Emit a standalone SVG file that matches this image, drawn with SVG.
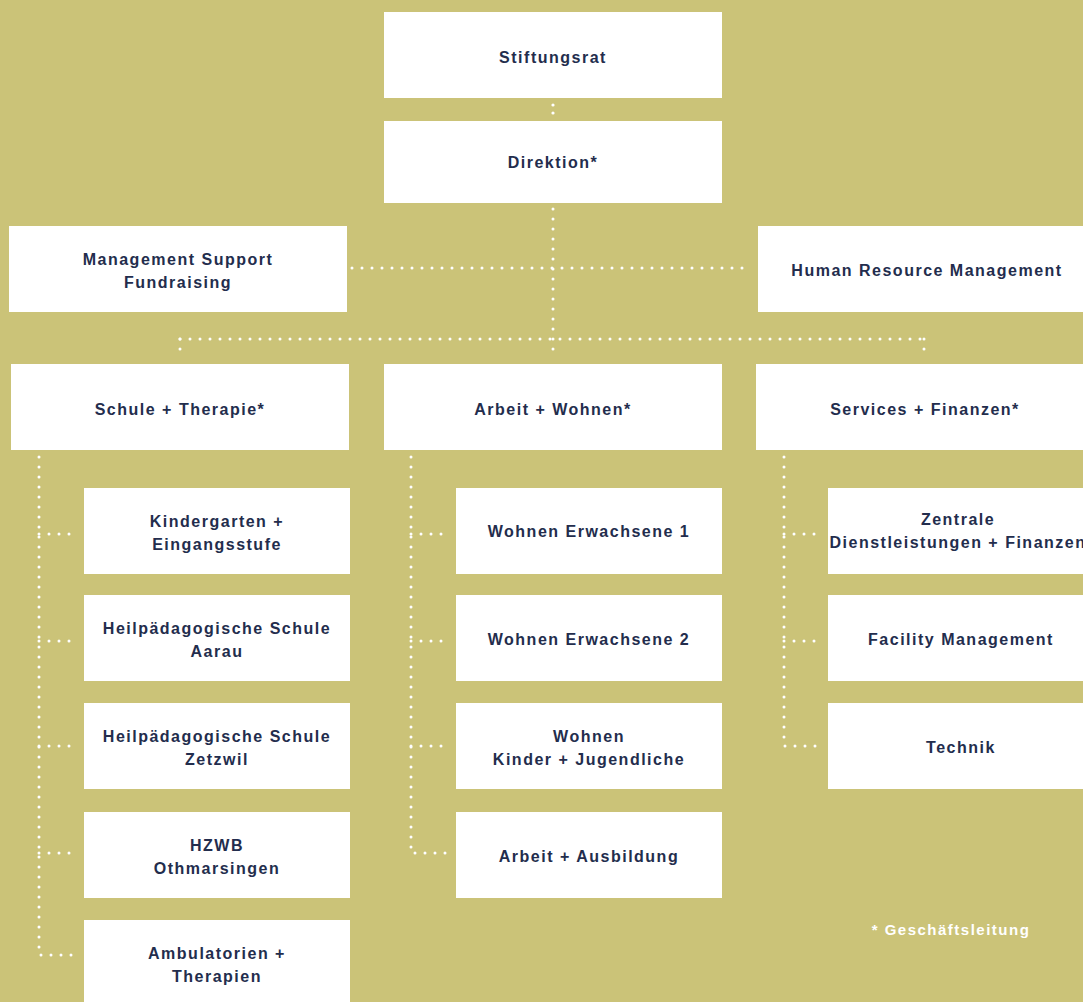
<svg xmlns="http://www.w3.org/2000/svg" width="1083" height="1002" viewBox="0 0 1083 1002">
<style>
.box{fill:#ffffff}
.t{font-family:"Liberation Sans",Arial,sans-serif;font-weight:bold;font-size:16px;letter-spacing:1.5px;fill:#232d4d;text-anchor:middle}
.note{font-family:"Liberation Sans",Arial,sans-serif;font-weight:bold;font-size:15px;letter-spacing:1.5px;fill:#ffffff;text-anchor:middle}
.c{stroke:#ffffff;stroke-width:3;stroke-linecap:round;stroke-dasharray:0 10;fill:none}
.d{fill:#ffffff}
</style>
<rect width="1083" height="1002" fill="#cbc378"/>
<g id="connectors">
<circle class="d" cx="553" cy="105" r="1.6"/>
<circle class="d" cx="553" cy="113" r="1.6"/>
<line class="c" x1="553" y1="209" x2="553" y2="359"/>
<line class="c" x1="352" y1="268" x2="752" y2="268"/>
<line class="c" x1="180" y1="339" x2="924" y2="339"/>
<line class="c" x1="180" y1="339" x2="180" y2="359"/>
<line class="c" x1="924" y1="339" x2="924" y2="359"/>
<path class="c" d="M39 457 V955 H79"/>
<line class="c" x1="39" y1="534" x2="79" y2="534"/>
<line class="c" x1="39" y1="641" x2="79" y2="641"/>
<line class="c" x1="39" y1="746" x2="79" y2="746"/>
<line class="c" x1="39" y1="853" x2="79" y2="853"/>
<path class="c" d="M411 457 V853 H451"/>
<line class="c" x1="411" y1="534" x2="451" y2="534"/>
<line class="c" x1="411" y1="641" x2="451" y2="641"/>
<line class="c" x1="411" y1="746" x2="451" y2="746"/>
<path class="c" d="M784 457 V746 H824"/>
<line class="c" x1="784" y1="534" x2="824" y2="534"/>
<line class="c" x1="784" y1="641" x2="824" y2="641"/>
</g>
<g id="stiftungsrat"><rect class="box" x="384" y="12" width="338" height="86"/><text class="t" x="553" y="63">Stiftungsrat</text></g>
<g id="direktion"><rect class="box" x="384" y="121" width="338" height="82"/><text class="t" x="553" y="168">Direktion*</text></g>
<g id="management-support"><rect class="box" x="9" y="226" width="338" height="86"/><text class="t" x="178" y="265">Management Support</text><text class="t" x="178" y="288">Fundraising</text></g>
<g id="hrm"><rect class="box" x="758" y="226" width="325" height="86"/><text class="t" x="927" y="276">Human Resource Management</text></g>
<g id="schule"><rect class="box" x="11" y="364" width="338" height="86"/><text class="t" x="180" y="415">Schule + Therapie*</text></g>
<g id="arbeit"><rect class="box" x="384" y="364" width="338" height="86"/><text class="t" x="553" y="415">Arbeit + Wohnen*</text></g>
<g id="services"><rect class="box" x="756" y="364" width="327" height="86"/><text class="t" x="925" y="415">Services + Finanzen*</text></g>
<g id="kindergarten"><rect class="box" x="84" y="488" width="266" height="86"/><text class="t" x="217" y="527">Kindergarten +</text><text class="t" x="217" y="550">Eingangsstufe</text></g>
<g id="hps-aarau"><rect class="box" x="84" y="595" width="266" height="86"/><text class="t" x="217" y="634">Heilpädagogische Schule</text><text class="t" x="217" y="657">Aarau</text></g>
<g id="hps-zetzwil"><rect class="box" x="84" y="703" width="266" height="86"/><text class="t" x="217" y="742">Heilpädagogische Schule</text><text class="t" x="217" y="765">Zetzwil</text></g>
<g id="hzwb"><rect class="box" x="84" y="812" width="266" height="86"/><text class="t" x="217" y="851">HZWB</text><text class="t" x="217" y="874">Othmarsingen</text></g>
<g id="ambulatorien"><rect class="box" x="84" y="920" width="266" height="86"/><text class="t" x="217" y="959">Ambulatorien +</text><text class="t" x="217" y="982">Therapien</text></g>
<g id="wohnen-e1"><rect class="box" x="456" y="488" width="266" height="86"/><text class="t" x="589" y="537">Wohnen Erwachsene 1</text></g>
<g id="wohnen-e2"><rect class="box" x="456" y="595" width="266" height="86"/><text class="t" x="589" y="645">Wohnen Erwachsene 2</text></g>
<g id="wohnen-kj"><rect class="box" x="456" y="703" width="266" height="86"/><text class="t" x="589" y="742">Wohnen</text><text class="t" x="589" y="765">Kinder + Jugendliche</text></g>
<g id="arbeit-ausbildung"><rect class="box" x="456" y="812" width="266" height="86"/><text class="t" x="589" y="862">Arbeit + Ausbildung</text></g>
<g id="zentrale"><rect class="box" x="828" y="488" width="255" height="86"/><text class="t" x="958" y="525">Zentrale</text><text class="t" x="958" y="548">Dienstleistungen + Finanzen</text></g>
<g id="facility"><rect class="box" x="828" y="595" width="255" height="86"/><text class="t" x="961" y="645">Facility Management</text></g>
<g id="technik"><rect class="box" x="828" y="703" width="255" height="86"/><text class="t" x="961" y="753">Technik</text></g>
<text class="note" x="951" y="935">* Geschäftsleitung</text>
</svg>
